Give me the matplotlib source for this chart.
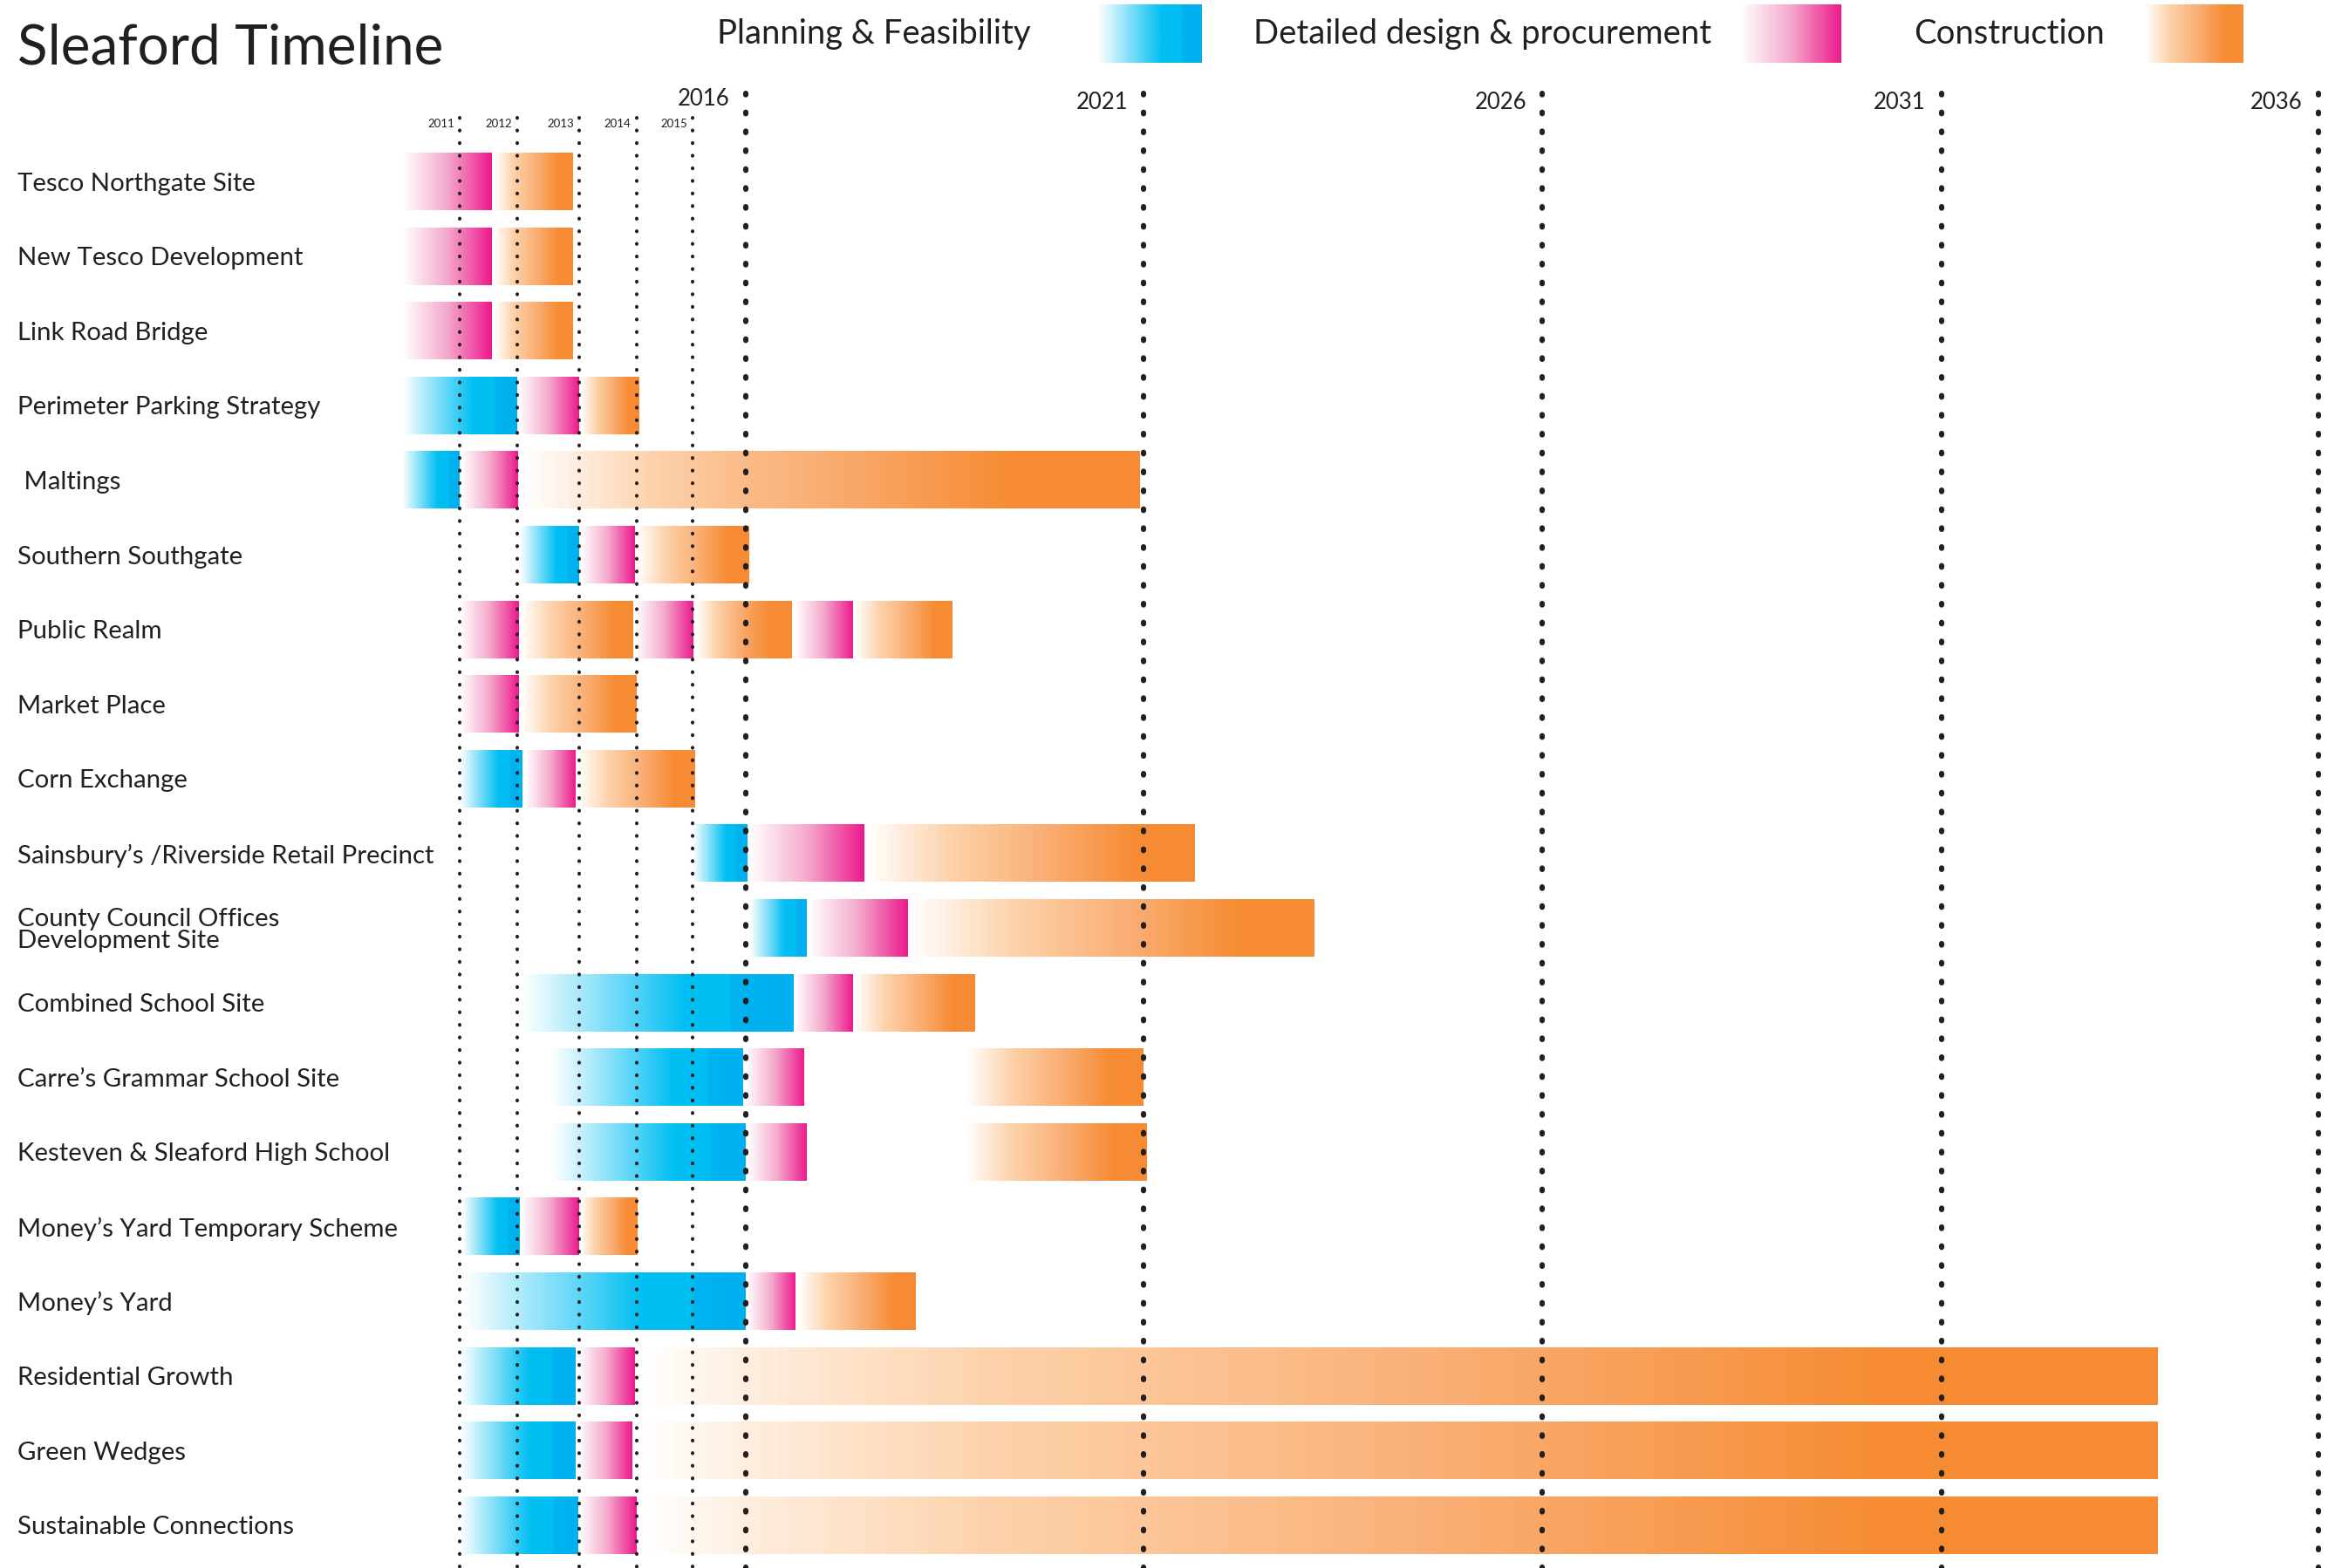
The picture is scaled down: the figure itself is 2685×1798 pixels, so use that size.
import numpy as np
import matplotlib
matplotlib.use('Agg')
import matplotlib.pyplot as plt
from matplotlib.colors import LinearSegmentedColormap
from matplotlib import transforms

plt.rcParams['font.family'] = ['Lato', 'DejaVu Sans']
plt.rcParams['lines.scale_dashes'] = False

W, H = 2685, 1798
INK = '#231F20'

projects = ['Tesco Northgate Site', 'New Tesco Development', 'Link Road Bridge',
            'Perimeter Parking Strategy', ' Maltings', 'Southern Southgate',
            'Public Realm', 'Market Place', 'Corn Exchange',
            'Sainsbury\u2019s /Riverside Retail Precinct',
            'County Council Offices\nDevelopment Site', 'Combined School Site',
            'Carre\u2019s Grammar School Site', 'Kesteven & Sleaford High School',
            'Money\u2019s Yard Temporary Scheme', 'Money\u2019s Yard',
            'Residential Growth', 'Green Wedges', 'Sustainable Connections']

# (row, start year, end year)
planning = [(3, 2010.0, 2012.0), (4, 2010.0, 2011.0), (5, 2012.04, 2013.0),
            (8, 2011.0, 2012.09), (9, 2015.0, 2016.02), (10, 2016.05, 2016.77),
            (11, 2012.04, 2016.6), (12, 2012.53, 2015.95), (13, 2012.53, 2016.0),
            (14, 2011.05, 2012.04), (15, 2011.05, 2016.0), (16, 2011.0, 2012.95),
            (17, 2011.0, 2012.95), (18, 2011.0, 2012.98)]

design = [(0, 2010.0, 2011.56), (1, 2010.0, 2011.56), (2, 2010.0, 2011.56),
          (3, 2012.02, 2013.0), (4, 2011.03, 2012.02), (5, 2013.03, 2013.97),
          (6, 2011.0, 2012.03), (6, 2013.98, 2015.02), (6, 2016.61, 2017.35),
          (7, 2011.0, 2012.03), (8, 2012.13, 2012.95), (9, 2016.05, 2017.49),
          (10, 2016.79, 2018.04), (11, 2016.61, 2017.35), (12, 2015.99, 2016.74),
          (13, 2016.02, 2016.77), (14, 2012.06, 2013.0), (15, 2016.01, 2016.63),
          (16, 2012.98, 2013.97), (17, 2012.98, 2013.93), (18, 2013.0, 2014.0)]

construction = [(0, 2011.6, 2012.9), (1, 2011.6, 2012.9), (2, 2011.6, 2012.9),
                (3, 2013.03, 2014.05), (4, 2012.06, 2020.96), (5, 2014.0, 2016.04),
                (6, 2012.06, 2013.95), (6, 2015.06, 2016.58), (6, 2017.37, 2018.6),
                (7, 2012.06, 2014.0), (8, 2012.98, 2015.05), (9, 2017.51, 2021.65),
                (10, 2018.06, 2023.14), (11, 2017.37, 2018.88), (12, 2018.76, 2021.0),
                (13, 2018.76, 2021.04), (14, 2013.02, 2014.02), (15, 2016.65, 2018.14),
                (16, 2014.01, 2033.87), (17, 2014.01, 2033.87), (18, 2014.04, 2033.87)]

minor_years = [2011, 2012, 2013, 2014, 2015]
major_years = [2016, 2021, 2026, 2031, 2036]

legend_labels = ['Planning & Feasibility', 'Detailed design & procurement', 'Construction']

# the timeline is stretched for the early years: piecewise linear year -> pixel scale
knot_years = np.array([1990, 2010, 2011, 2012, 2013, 2014, 2015, 2016, 2021, 2026, 2031, 2036, 2060])
knot_px = np.array([-859, 461, 527, 593, 664, 729.5, 794, 855, 1311, 1768, 2226, 2658, 4732])

def fwd(x):
    return np.interp(x, knot_years, knot_px)

def inv(p):
    return np.interp(p, knot_px, knot_years)

blue = LinearSegmentedColormap.from_list('plan', [(0, '#FFFFFF'), (0.62, '#00BEF2'), (0.8, '#00BDF2'),
                                                  (0.82, '#00B2EF'), (1, '#00B0EF')])
pink = LinearSegmentedColormap.from_list('design', [(0, '#FFFFFF'), (0.5, '#F4A9CC'), (1, '#EC1A8D')])
orange = LinearSegmentedColormap.from_list('build', [(0, '#FFFFFF'), (0.25, '#FDD2AB'), (0.55, '#F9AD72'),
                                                     (0.82, '#F68B33'), (1, '#F68B33')])

fig = plt.figure(figsize=(W / 100, H / 100), dpi=100)
ax = fig.add_axes([0, 0, 1, 1])
ax.set_xscale('function', functions=(fwd, inv))
ax.axis('off')

row0, row_px = 208, 85.6
bar_h = 0.77

def px_row(p):
    return (p - row0) / row_px

def gradient_bar(row, start, end, cmap):
    xs = np.linspace(start, end, 150)
    ys = [row - bar_h / 2, row + bar_h / 2]
    c = np.linspace(0, 1, 149).reshape(1, -1)
    ax.pcolormesh(xs, ys, c, cmap=cmap, vmin=0, vmax=1, shading='flat',
                  edgecolors='none', antialiased=False, zorder=2)

for phases, cmap in [(planning, blue), (design, pink), (construction, orange)]:
    for row, s, e in phases:
        gradient_bar(row, s, e, cmap)

# dotted year lines
for yr in minor_years:
    ax.plot([yr, yr], [px_row(135), px_row(H + 20)], color=INK, lw=2.9,
            linestyle=(0, (0.3, 10.1)), dash_capstyle='round', zorder=3)
    ax.annotate(str(yr), (yr, px_row(146)), xytext=(-4.5, 0), textcoords='offset points',
                ha='right', va='baseline', fontsize=9.5, color=INK)
for yr in major_years:
    ax.plot([yr, yr], [px_row(107), px_row(H + 20)], color=INK, lw=4.4,
            linestyle=(0, (1.2, 14.4)), dash_capstyle='round', zorder=3)
    ax.annotate(str(yr), (yr, px_row(125 if yr != 2016 else 121)), xytext=(-13, 0),
                textcoords='offset points', ha='right', va='baseline', fontsize=18.5, color=INK)

ax.set_xlim(inv(0), inv(W))
ax.set_ylim(px_row(H), px_row(0))

# project names
lab_tr = transforms.blended_transform_factory(fig.transFigure, ax.transData)
for i, name in enumerate(projects):
    ax.text(20 / W, i + 0.03, name, transform=lab_tr, ha='left', va='center',
            fontsize=21.2, color=INK, linespacing=0.95)

# title and legend
fig.text(20 / W, 1 - 73 / H, 'Sleaford Timeline', fontsize=46, color=INK, va='baseline')
legend_text_x = [822, 1437, 2194]
swatch_x = [(1259, 1378), (1995, 2111), (2459, 2572)]
for lab, tx, (s0, s1), cmap in zip(legend_labels, legend_text_x, swatch_x, [blue, pink, orange]):
    fig.text(tx / W, 1 - 50 / H, lab, fontsize=27.5, color=INK, va='baseline')
    sw = fig.add_axes([s0 / W, 1 - 72 / H, (s1 - s0) / W, 67 / H])
    sw.imshow(np.linspace(0, 1, 256).reshape(1, -1), cmap=cmap, aspect='auto',
              extent=(0, 1, 0, 1), interpolation='bilinear')
    sw.axis('off')

fig.savefig('out.png', dpi=100, facecolor='white')
